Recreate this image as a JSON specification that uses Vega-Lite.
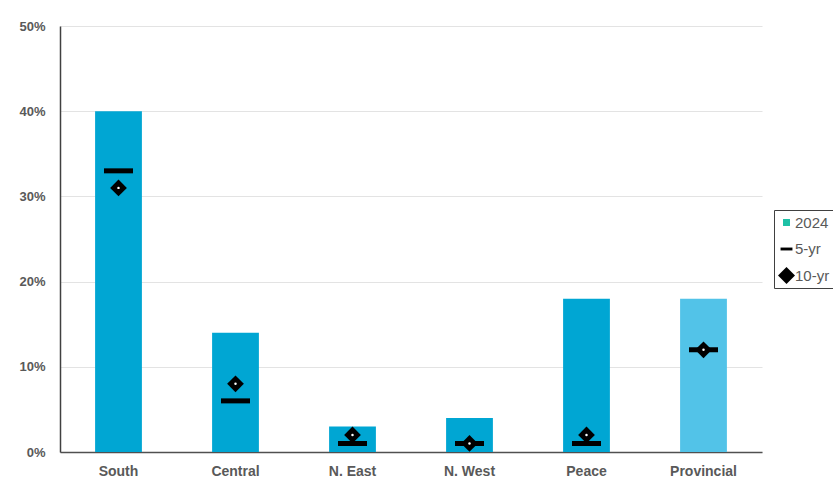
{
  "$schema": "https://vega.github.io/schema/vega-lite/v6.json",
  "autosize": "none",
  "width": 702,
  "height": 426,
  "padding": {"left": 60, "top": 26, "right": 71, "bottom": 33},
  "background": "white",
  "config": {
    "view": {"stroke": null},
    "font": "Liberation Sans",
    "axis": {
      "labelFont": "Liberation Sans",
      "labelColor": "#595959",
      "labelFontWeight": "bold",
      "domainColor": "#404040",
      "domainWidth": 1.5,
      "ticks": false,
      "title": null
    }
  },
  "data": {
    "values": [
      {"region": "South", "series": "2024", "value": 0.40},
      {"region": "South", "series": "5-yr", "value": 0.33},
      {"region": "South", "series": "10-yr", "value": 0.31},
      {"region": "Central", "series": "2024", "value": 0.14},
      {"region": "Central", "series": "5-yr", "value": 0.06},
      {"region": "Central", "series": "10-yr", "value": 0.08},
      {"region": "N. East", "series": "2024", "value": 0.03},
      {"region": "N. East", "series": "5-yr", "value": 0.01},
      {"region": "N. East", "series": "10-yr", "value": 0.02},
      {"region": "N. West", "series": "2024", "value": 0.04},
      {"region": "N. West", "series": "5-yr", "value": 0.01},
      {"region": "N. West", "series": "10-yr", "value": 0.01},
      {"region": "Peace", "series": "2024", "value": 0.18},
      {"region": "Peace", "series": "5-yr", "value": 0.01},
      {"region": "Peace", "series": "10-yr", "value": 0.02},
      {"region": "Provincial", "series": "2024", "value": 0.18},
      {"region": "Provincial", "series": "5-yr", "value": 0.12},
      {"region": "Provincial", "series": "10-yr", "value": 0.12}
    ]
  },
  "encoding": {
    "x": {
      "field": "region",
      "type": "nominal",
      "sort": null,
      "scale": {"paddingInner": 0.6, "paddingOuter": 0.3},
      "axis": {"labelAngle": 0, "labelFontSize": 14, "labelPadding": 12, "domainColor": "#505050"}
    },
    "y": {
      "field": "value",
      "type": "quantitative",
      "scale": {"domain": [0, 0.5], "nice": false},
      "axis": {
        "format": ".0%",
        "values": [0, 0.1, 0.2, 0.3, 0.4, 0.5],
        "labelFontSize": 13,
        "labelPadding": 15,
        "grid": true,
        "gridColor": "#e3e3e3",
        "gridWidth": 1
      }
    }
  },
  "layer": [
    {
      "transform": [{"filter": "datum.series === '2024'"}],
      "mark": {"type": "bar"},
      "encoding": {
        "color": {
          "condition": {"test": "datum.region === 'Provincial'", "value": "#52c3e8"},
          "value": "#00a6d3"
        }
      }
    },
    {
      "transform": [{"filter": "datum.series === '5-yr'"}],
      "mark": {"type": "tick", "color": "#000000", "size": 29, "thickness": 5, "opacity": 1},
      "encoding": {}
    },
    {
      "transform": [{"filter": "datum.series === '10-yr'"}],
      "mark": {"type": "point", "filled": true, "size": 280, "opacity": 1},
      "encoding": {
        "color": {
          "field": "series",
          "type": "nominal",
          "scale": {"domain": ["2024", "5-yr", "10-yr"], "range": ["#1dc1a6", "#000000", "#000000"]},
          "legend": {
            "title": null,
            "orient": "none",
            "legendX": 714,
            "legendY": 184,
            "strokeColor": "#404040",
            "padding": 4,
            "labelFont": "Liberation Sans",
            "labelFontSize": 15,
            "labelColor": "#595959",
            "symbolSize": 289,
            "symbolOpacity": 1,
            "symbolStrokeWidth": 0,
            "rowPadding": 9.5,
            "labelOffset": 0
          }
        },
        "shape": {
          "field": "series",
          "type": "nominal",
          "scale": {
            "domain": ["2024", "5-yr", "10-yr"],
            "range": ["M-0.41,-0.41H0.41V0.41H-0.41Z", "M-0.7,-0.17H0.7V0.17H-0.7Z", "diamond"]
          }
        }
      }
    },
    {
      "transform": [{"filter": "datum.series === '10-yr'"}],
      "mark": {"type": "circle", "color": "#ffffff", "size": 6, "opacity": 1},
      "encoding": {}
    }
  ]
}
